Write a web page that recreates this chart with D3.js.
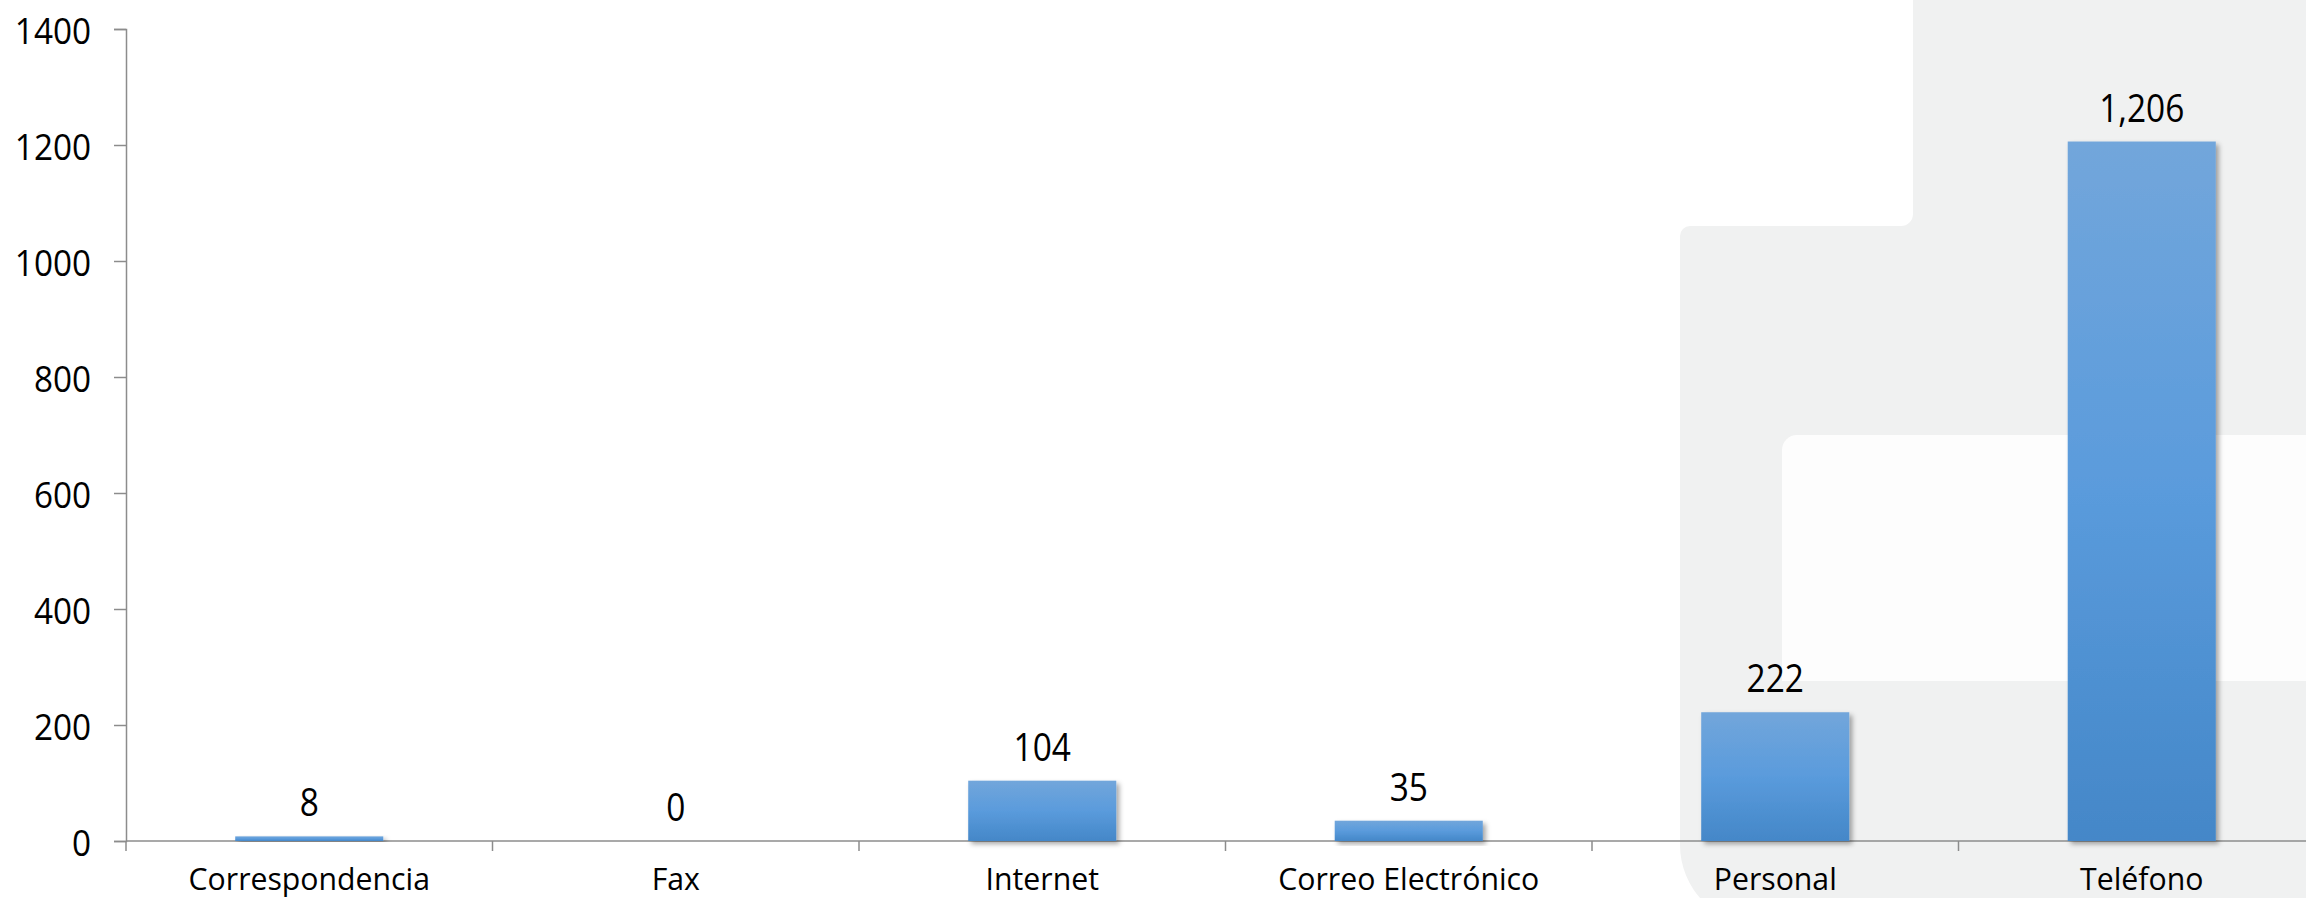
<!DOCTYPE html>
<html>
<head>
<meta charset="utf-8">
<script src="https://cdn.jsdelivr.net/npm/d3@7"></script>
<style>
  html, body { margin: 0; padding: 0; background: #ffffff; overflow: hidden; }
  svg { display: block; }
  text { font-family: "Open Sans", "Noto Sans", sans-serif; fill: #000; }
</style>
</head>
<body>
<svg id="chart" width="2306" height="898"></svg>
<script>
const categories = ["Correspondencia", "Fax", "Internet", "Correo Electrónico", "Personal", "Teléfono"];
const values = [8, 0, 104, 35, 222, 1206];
const yTicks = [0, 200, 400, 600, 800, 1000, 1200, 1400];
const valueLabels = ["8", "0", "104", "35", "222", "1,206"];

const W = 2306, H = 898;
const left = 126, zeroY = 841, topY = 29;
const step = 366.5;
const svg = d3.select("#chart");

const defs = svg.append("defs");
const grad = defs.append("linearGradient").attr("id", "barGrad")
  .attr("x1", 0).attr("y1", 0).attr("x2", 0).attr("y2", 1);
grad.append("stop").attr("offset", "0%").attr("stop-color", "#72a6db");
grad.append("stop").attr("offset", "50%").attr("stop-color", "#5a9bdc");
grad.append("stop").attr("offset", "100%").attr("stop-color", "#4487c8");
const f = defs.append("filter").attr("id", "shadow")
  .attr("x", "-10%").attr("y", "-10%").attr("width", "130%").attr("height", "130%");
f.append("feDropShadow").attr("dx", 3).attr("dy", 3).attr("stdDeviation", 2.5)
  .attr("flood-color", "#000").attr("flood-opacity", 0.35);

// background decoration
const bg = svg.append("g");
bg.append("path")
  .attr("d", "M 1913 -10 L 2400 -10 L 2400 925 L 1760 925 A 80 80 0 0 1 1680 845 L 1680 236 A 10 10 0 0 1 1690 226 L 1901 226 A 12 12 0 0 0 1913 214 Z")
  .attr("fill", "#f0f1f1");
bg.append("path")
  .attr("d", "M 1782 681 L 1782 450 A 15 15 0 0 1 1797 435 L 2400 435 L 2400 681 Z")
  .attr("fill", "#fdfdfd");

// scales
const x = d3.scaleBand()
  .domain(categories)
  .range([left, left + step * categories.length])
  .paddingInner(0.596)
  .paddingOuter(0.298);
const y = d3.scaleLinear().domain([0, 1400]).range([zeroY, topY]);

const axisColor = "#8c8c8c";

// y axis
const yAxis = svg.append("g").attr("transform", `translate(${left},0)`)
  .call(d3.axisLeft(y).tickValues(yTicks).tickSize(12).tickPadding(23).tickFormat(d3.format("d")));
yAxis.select(".domain").attr("stroke", axisColor).attr("stroke-width", 1.5);
yAxis.selectAll(".tick line").attr("stroke", axisColor).attr("stroke-width", 1.5);
yAxis.selectAll(".tick text")
  .style("font-family", '"Open Sans", sans-serif')
  .attr("font-size", 37).attr("fill", "#000")
  .attr("x", null).attr("dy", null)
  .attr("dominant-baseline", "central")
  .attr("transform", "translate(-35,0) scale(0.9,1)");

// x axis
const xAxisG = svg.append("g").attr("transform", `translate(0,${zeroY})`);
xAxisG.append("line")
  .attr("x1", left).attr("x2", W + 40).attr("y1", 0).attr("y2", 0)
  .attr("stroke", axisColor).attr("stroke-width", 1.5);
const boundaries = d3.range(categories.length + 1).map(i => x.range()[0] + i * x.step());
xAxisG.selectAll("line.bt").data(boundaries).join("line").attr("class", "bt")
  .attr("x1", d => d).attr("x2", d => d).attr("y1", 0).attr("y2", 10)
  .attr("stroke", axisColor).attr("stroke-width", 1.5);
xAxisG.selectAll("text.cat").data(categories).join("text").attr("class", "cat")
  .attr("text-anchor", "middle")
  .attr("font-size", 31.5)
  .attr("transform", d => `translate(${x(d) + x.bandwidth() / 2},49) scale(0.96,1)`)
  .text(d => d);

// bars
const data = categories.map((c, i) => ({ c, v: values[i], l: valueLabels[i] }));
svg.append("g").selectAll("rect").data(data.filter(d => d.v > 0)).join("rect")
  .attr("x", d => x(d.c))
  .attr("width", x.bandwidth())
  .attr("y", d => y(d.v))
  .attr("height", d => y(0) - y(d.v))
  .attr("fill", "url(#barGrad)")
  .attr("filter", "url(#shadow)");

// value labels
svg.append("g").selectAll("text").data(data).join("text")
  .attr("text-anchor", "middle")
  .attr("font-size", 38)
  .attr("transform", d => `translate(${x(d.c) + x.bandwidth() / 2},${y(d.v) - 20}) scale(0.88,1)`)
  .text(d => d.l);
</script>
</body>
</html>
